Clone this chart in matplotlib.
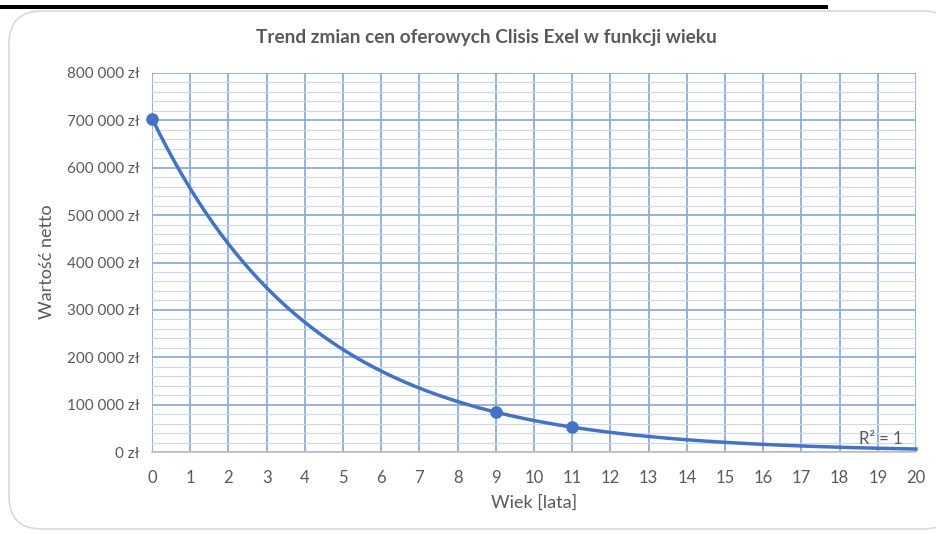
import numpy as np
import matplotlib
matplotlib.use("Agg")
import matplotlib.pyplot as plt
from matplotlib.patches import FancyBboxPatch, Rectangle
from matplotlib.ticker import FuncFormatter, MultipleLocator

# Data
ages = [0, 9, 11]
values = [703000, 85000, 52000]
x_ticks = list(range(0, 21))
y_ticks = list(range(0, 800001, 100000))

title = "Trend zmian cen oferowych Clisis Exel w funkcji wieku"
xlabel = "Wiek [lata]"
ylabel = "Wartość netto"
r2_text = "R² = 1"

plt.rcParams['font.family'] = ['Lato', 'DejaVu Sans']

W, H = 936, 534
fig = plt.figure(figsize=(W / 100, H / 100), dpi=100)

# Chart border (rounded)
border = FancyBboxPatch((9 / W, 1 - 529 / H), (W + 20 - 9) / W, (529 - 11) / H,
                        boxstyle="round,pad=0,rounding_size=0.035",
                        transform=fig.transFigure, facecolor="white",
                        edgecolor="#D9D9D9", linewidth=1.2, zorder=-10,
                        mutation_aspect=W / H)
fig.patches.append(border)
# Black bar at top (screenshot artefact)
fig.patches.append(Rectangle((0, 1 - 9 / H), 828 / W, 4.5 / H, transform=fig.transFigure,
                             facecolor="black", edgecolor="none", zorder=-5))

ax = fig.add_axes([152 / W, 1 - 452 / H, (916 - 152) / W, (452 - 73) / H])
ax.set_facecolor("none")

major_c = "#8FAADC"
minor_c = "#CCD8EF"

ax.set_xlim(0, 20)
ax.set_ylim(0, 800000)
ax.set_xticks(x_ticks)
ax.set_yticks(y_ticks)
ax.yaxis.set_minor_locator(MultipleLocator(20000))
ax.yaxis.set_major_formatter(FuncFormatter(
    lambda v, p: "0 zł" if v == 0 else f"{int(v):,}".replace(",", " ") + " zł"))

ax.grid(True, which="major", axis="both", color=major_c, linewidth=1.3, zorder=1)
ax.grid(True, which="minor", axis="y", color=minor_c, linewidth=0.8, zorder=1)
ax.set_axisbelow(True)

for s in ["top", "right", "left"]:
    ax.spines[s].set_visible(False)
ax.spines["bottom"].set_color("#BFBFBF")
ax.spines["bottom"].set_linewidth(1.2)

ax.tick_params(axis="both", which="both", length=0, colors="#595959")
ax.tick_params(axis="x", pad=13, labelsize=12)
ax.tick_params(axis="y", pad=9, labelsize=11)

# Exponential trendline fitted to the data
coef = np.polyfit(ages, np.log(values), 1)
xt = np.linspace(0, 20, 300)
yt = np.exp(coef[1]) * np.exp(coef[0] * xt)
ax.plot(xt, yt, color="#4472C4", linewidth=2.5, zorder=3, clip_on=False)
ax.scatter(ages, values, s=65, color="#4472C4", zorder=4, clip_on=False)

ax.text(18.5, 10000, r2_text, color="#595959", fontsize=12, ha="left", va="bottom")

fig.text(486 / W, 1 - 38 / H, title, ha="center", va="center", fontsize=13.7,
         fontweight="bold", color="#595959")
fig.text(534 / W, 1 - 503 / H, xlabel, ha="center", va="center", fontsize=13, color="#595959")
fig.text(47 / W, 1 - 262 / H, ylabel, ha="center", va="center", fontsize=13,
         color="#595959", rotation=90)

fig.savefig("out.png", dpi=100)
